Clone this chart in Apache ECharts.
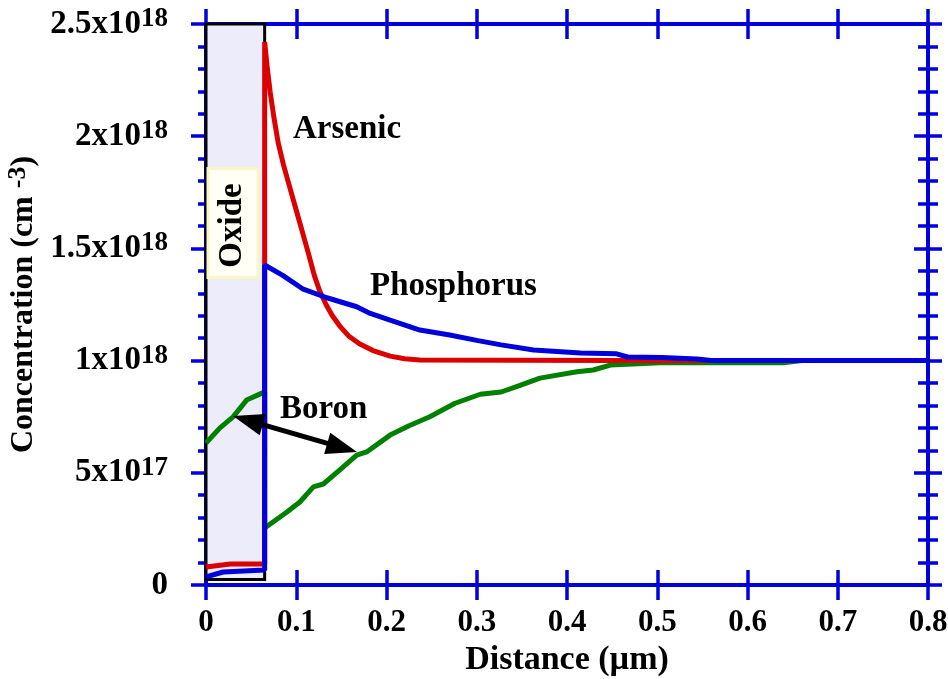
<!DOCTYPE html>
<html><head><meta charset="utf-8">
<script src="https://cdn.jsdelivr.net/npm/echarts@6/dist/echarts.min.js"></script>
<style>html,body{margin:0;padding:0;background:#fff}#c{width:948px;height:679px}</style>
</head><body><div id="c"></div>
<script>
// ---- data (x in µm, concentration in units of 1e18 cm^-3) ----
const xTickLabels = ['0','0.1','0.2','0.3','0.4','0.5','0.6','0.7','0.8'];
const yTickMantissa = ['0','5x10','1x10','1.5x10','2x10','2.5x10'];
const yTickExponent = ['','17','18','18','18','18'];

const boronX = [0, 0.0155, 0.030, 0.045, 0.062, 0.065, 0.065, 0.0897, 0.104, 0.119, 0.130, 0.148, 0.167, 0.178, 0.204, 0.225, 0.248, 0.276, 0.304, 0.327, 0.348, 0.370, 0.411, 0.429, 0.448, 0.503, 0.64, 0.66, 0.8];
const boronV = [0.633, 0.70, 0.749, 0.824, 0.855, 0.86, 0.254, 0.325, 0.37, 0.437, 0.45, 0.512, 0.579, 0.593, 0.668, 0.71, 0.75, 0.81, 0.85, 0.86, 0.89, 0.922, 0.95, 0.958, 0.98, 0.99, 0.99, 1.0, 1.0];

const arsenicX = [0, 0.027, 0.065, 0.065, 0.068, 0.071, 0.075, 0.080, 0.086, 0.093, 0.100, 0.107, 0.114, 0.120, 0.126, 0.133, 0.140, 0.148, 0.158, 0.170, 0.185, 0.204, 0.220, 0.237, 0.45, 0.8];
const arsenicV = [0.08, 0.094, 0.094, 2.42, 2.30, 2.20, 2.09, 1.97, 1.87, 1.77, 1.67, 1.57, 1.47, 1.38, 1.31, 1.25, 1.20, 1.155, 1.11, 1.075, 1.045, 1.02, 1.008, 1.003, 1.0, 1.0];

const phosX = [0, 0.019, 0.065, 0.065, 0.085, 0.107, 0.134, 0.167, 0.182, 0.204, 0.237, 0.270, 0.300, 0.327, 0.363, 0.415, 0.455, 0.467, 0.505, 0.544, 0.56, 0.8];
const phosV = [0.036, 0.058, 0.067, 1.426, 1.38, 1.32, 1.28, 1.24, 1.21, 1.18, 1.136, 1.114, 1.09, 1.07, 1.047, 1.034, 1.03, 1.016, 1.014, 1.007, 1.0, 1.0];

const oxideRange = [0, 0.065];
// ---------------------------------------------------------------

const FONT = "'Liberation Serif','Times New Roman',serif";
const BLUE = '#0000dd';
const pairs = (xs, vs) => xs.map((x, i) => [x, vs[i]]);
const lineSty = {color: BLUE, width: 4};
const tickSty = {color: BLUE, width: 3.5};

function xAxisDef(pos, inside, main) {
  const a = {
    type: 'value', position: pos, min: 0, max: 0.8, interval: 0.1,
    axisLine: {show: true, onZero: false, lineStyle: lineSty},
    axisTick: {show: true, inside: inside, length: 15, lineStyle: tickSty},
    axisLabel: {show: false},
    splitLine: {show: false}
  };
  if (main) {
    a.axisLabel = {show: true, margin: 22, color: '#000', fontFamily: FONT, fontWeight: 'bold', fontSize: 31,
      formatter: v => xTickLabels[Math.round(v * 10)]};
    a.name = 'Distance (µm)';
    a.nameLocation = 'middle';
    a.nameGap = 58;
    a.nameTextStyle = {color: '#000', fontFamily: FONT, fontWeight: 'bold', fontSize: 34};
  }
  return a;
}
function yAxisDef(pos, inside, main, len, minorLen) {
  const a = {
    type: 'value', position: pos, min: 0, max: 2.5, interval: 0.5,
    axisLine: {show: true, onZero: false, lineStyle: lineSty},
    axisTick: {show: true, inside: inside, length: len, lineStyle: tickSty},
    minorTick: {show: true, splitNumber: 5, length: minorLen, lineStyle: tickSty},
    axisLabel: {show: false},
    splitLine: {show: false}, minorSplitLine: {show: false}
  };
  if (main) {
    a.axisLabel = {show: true, margin: 38, color: '#000',
      formatter: v => {
        const i = Math.round(v * 2);
        return yTickExponent[i] ? '{b|' + yTickMantissa[i] + '}{s|' + yTickExponent[i] + '}' : '{b|' + yTickMantissa[i] + '}';
      },
      rich: {
        b: {fontFamily: FONT, fontWeight: 'bold', fontSize: 33, lineHeight: 33, color: '#000', verticalAlign: 'bottom'},
        s: {fontFamily: FONT, fontWeight: 'bold', fontSize: 27, lineHeight: 27, color: '#000', verticalAlign: 'bottom', padding: [0, 0, 8, 0]}
      }
    };
    a.name = '{a|Concentration (cm }{s|-3}{a|)}';
    a.nameLocation = 'middle';
    a.nameGap = 140;
    a.nameTextStyle = {
      rich: {
        a: {fontFamily: FONT, fontWeight: 'bold', fontSize: 32, lineHeight: 32, color: '#000', verticalAlign: 'bottom'},
        s: {fontFamily: FONT, fontWeight: 'bold', fontSize: 26, lineHeight: 26, color: '#000', verticalAlign: 'bottom', padding: [0, 0, 8, 0]}
      }
    };
  }
  return a;
}

const chart = echarts.init(document.getElementById('c'));
chart.setOption({
  animation: false,
  backgroundColor: '#fff',
  grid: {left: 206, right: 20, top: 24, bottom: 94, containLabel: false, outerBoundsMode: 'none'},
  xAxis: [xAxisDef('bottom', false, true), xAxisDef('bottom', true, false), xAxisDef('top', true, false), xAxisDef('top', false, false)],
  yAxis: [yAxisDef('left', false, true, 15, 8), yAxisDef('right', true, false, 14, 10), yAxisDef('right', false, false, 14, 10)],
  series: [
    {
      name: 'oxide', type: 'line', data: [], z: 1, clip: false, silent: true, symbol: 'none',
      markArea: {silent: true, itemStyle: {color: '#ececfa', borderColor: '#000', borderWidth: 3},
        data: [[{coord: [oxideRange[0], 0.025]}, {coord: [oxideRange[1], 2.5]}]]}
    },
    {
      name: 'Boron', type: 'line', data: pairs(boronX, boronV), symbol: 'none', clip: false,
      lineStyle: {color: '#008000', width: 5},
      markLine: {silent: true, symbol: ['triangle', 'triangle'], symbolSize: [22, 31],
        label: {show: false}, lineStyle: {color: '#000', width: 5, type: 'solid'},
        data: [[{coord: [0.0464, 0.734]}, {coord: [0.1508, 0.612]}]]}
    },
    {name: 'Arsenic', type: 'line', data: pairs(arsenicX, arsenicV), symbol: 'none', lineStyle: {color: '#dd0000', width: 5}},
    {name: 'Phosphorus', type: 'line', data: pairs(phosX, phosV), symbol: 'none', lineStyle: {color: BLUE, width: 5}}
  ]
});

const P = (x, y) => chart.convertToPixel({xAxisIndex: 0, yAxisIndex: 0}, [x, y]);
const txtFont = 'bold 33px ' + FONT;
const oxC = P(0.0299, 1.615);
const oxT = P(0.0294, 1.602);
const asP = P(0.0964, 2.032);
const phP = P(0.1817, 1.332);
const boP = P(0.082, 0.782);
chart.setOption({
  graphic: [
    {type: 'rect', z: 50, shape: {x: oxC[0] - 25, y: oxC[1] - 54, width: 50, height: 109},
      style: {fill: '#fffff6', stroke: '#fbf6c6', lineWidth: 3}},
    {type: 'text', z: 51, x: oxT[0], y: oxT[1], rotation: Math.PI / 2,
      style: {text: 'Oxide', font: txtFont, fill: '#000', textAlign: 'center', textVerticalAlign: 'middle'}},
    {type: 'text', z: 51, x: asP[0], y: asP[1], style: {text: 'Arsenic', font: txtFont, fill: '#000', textAlign: 'left', textVerticalAlign: 'middle'}},
    {type: 'text', z: 51, x: phP[0], y: phP[1], style: {text: 'Phosphorus', font: txtFont, fill: '#000', textAlign: 'left', textVerticalAlign: 'middle'}},
    {type: 'text', z: 51, x: boP[0], y: boP[1], style: {text: 'Boron', font: txtFont, fill: '#000', textAlign: 'left', textVerticalAlign: 'middle'}}
  ]
});
</script></body></html>
